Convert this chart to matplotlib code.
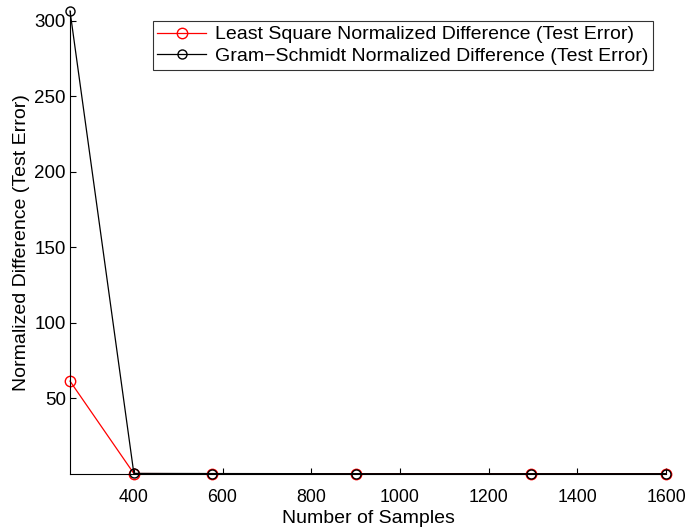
import matplotlib
matplotlib.use("Agg")
import matplotlib.pyplot as plt

plt.rcParams["font.family"] = ["Liberation Sans", "DejaVu Sans"]

# sample counts (16^2 ... 40^2)
n_samples = [256, 400, 576, 900, 1296, 1600]
ls_diff = [61.5, 0.3, 0.2, 0.2, 0.2, 0.2]
gs_diff = [306.5, 0.4, 0.3, 0.2, 0.2, 0.2]

x_ticks = [400, 600, 800, 1000, 1200, 1400, 1600]
y_ticks = [50, 100, 150, 200, 250, 300]

fs = 14

fig = plt.figure(figsize=(6.86, 5.29), dpi=100)
ax = fig.add_axes([70 / 686, 55 / 529, 596 / 686, 463 / 529])

ax.plot(n_samples, ls_diff, color="red", marker="o", markersize=7.5,
        markerfacecolor="none", linewidth=0.9, clip_on=False,
        label="Least Square Normalized Difference (Test Error)")
ax.plot(n_samples, gs_diff, color="black", marker="o", markersize=6.5,
        markerfacecolor="none", linewidth=0.9, clip_on=False,
        label="Gram\u2212Schmidt Normalized Difference (Test Error)")

ax.set_xlim(n_samples[0], n_samples[-1])
ax.set_ylim(0, max(gs_diff))
ax.set_xticks(x_ticks)
ax.set_yticks(y_ticks)
ax.tick_params(direction="in", length=4, labelsize=12.8, width=0.8)
ax.tick_params(axis="x", pad=11)
ax.tick_params(axis="y", pad=3, labelsize=13.5)
for side in ["top", "right"]:
    ax.spines[side].set_visible(False)
for side in ["left", "bottom"]:
    ax.spines[side].set_linewidth(0.8)

ax.set_xlabel("Number of Samples", fontsize=fs, labelpad=3)
ax.set_ylabel("Normalized Difference (Test Error)", fontsize=fs, labelpad=3)

leg = ax.legend(loc="upper right", bbox_to_anchor=(653 / 686, 1 - 21 / 529),
                bbox_transform=fig.transFigure, fontsize=fs, frameon=True,
                fancybox=False, edgecolor="black", borderpad=0.25,
                labelspacing=0.2, handlelength=2.5, handletextpad=0.45,
                borderaxespad=0)
leg.get_frame().set_linewidth(0.8)

fig.savefig("out.png", dpi=100)
